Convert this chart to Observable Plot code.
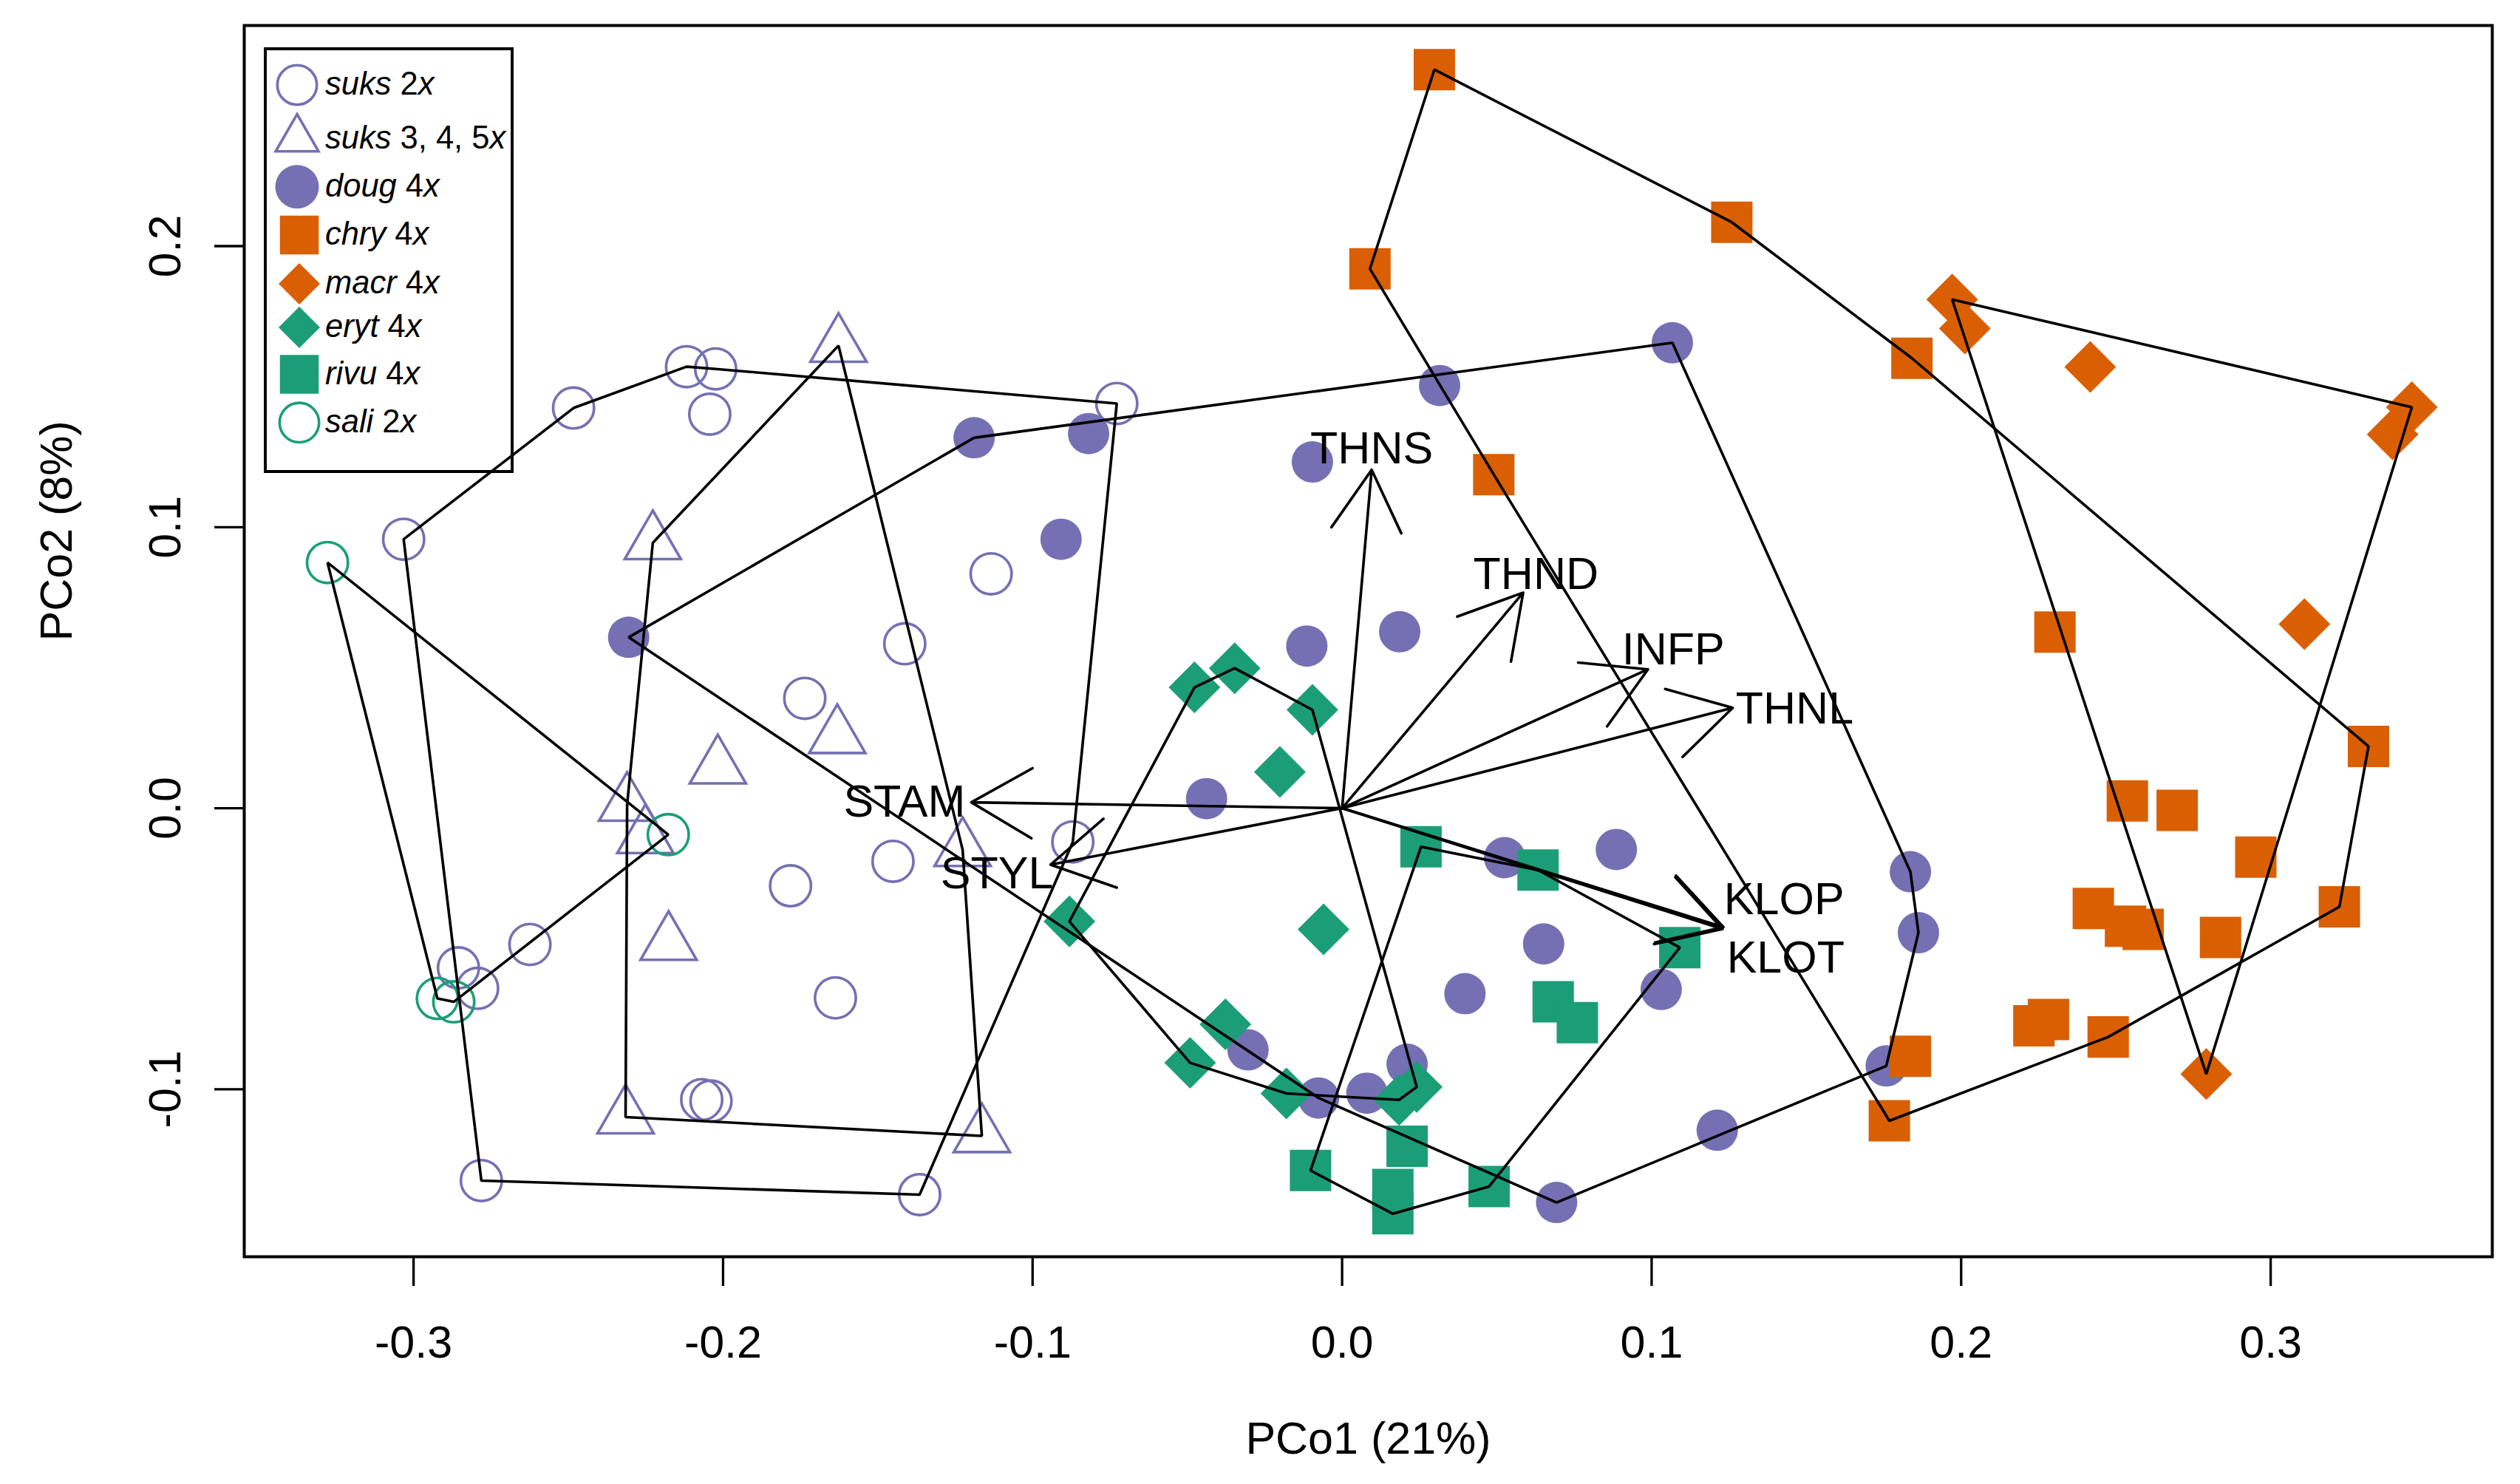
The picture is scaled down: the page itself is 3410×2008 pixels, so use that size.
<!DOCTYPE html>
<html>
<head>
<meta charset="utf-8">
<script src="https://cdn.jsdelivr.net/npm/d3@7"></script>
<script src="https://cdn.jsdelivr.net/npm/@observablehq/plot@0.6"></script>
<style>
  html, body { margin: 0; padding: 0; background: #ffffff; }
  #wrap { position: relative; width: 3410px; height: 2008px; background: #ffffff;
          font-family: "Liberation Sans", Arial, Helvetica, sans-serif; }
  #legend { position: absolute; left: 0; top: 0; pointer-events: none; }
</style>
</head>
<body>
<div id="wrap"></div>
<script>
// ---------------- data ----------------
const purple = "#7570B3", orange = "#D95F02", green = "#1B9E77";

// suks 2x (open purple circles)
const suks2x_x = [-0.2118, -0.2024, -0.2043, -0.2483, -0.3032, -0.0728, -0.1134, -0.1413, -0.1736, -0.1782,
                  -0.1451, -0.1637, -0.2624, -0.2855, -0.2793, -0.2069, -0.2039, -0.2781, -0.1365, -0.0870];
const suks2x_y = [0.1571, 0.1563, 0.1402, 0.1424, 0.0957, 0.1440, 0.0834, 0.0585, 0.0391, -0.0276,
                  -0.0189, -0.0675, -0.0485, -0.0568, -0.0641, -0.1037, -0.1042, -0.1325, -0.1375, -0.0120];
// suks 3, 4, 5x (open purple triangles)
const suks345_x = [-0.1627, -0.2227, -0.1631, -0.2017, -0.2310, -0.2251, -0.2176, -0.2315, -0.1164, -0.1226];
const suks345_y = [0.1646, 0.0944, 0.0254, 0.0146, 0.0013, -0.0102, -0.0482, -0.1099, -0.1166, -0.0148];
// doug 4x (filled purple circles)
const doug_x = [0.1067, 0.0315, -0.1189, -0.0819, -0.0096, -0.0908, -0.2305, 0.0186, -0.0114, -0.0438,
                0.0525, 0.0886, 0.1836, 0.1862, 0.0651, 0.0397, 0.1031, -0.0304, 0.0210, -0.0076,
                0.0080, 0.0693, 0.1212, 0.1758];
const doug_y = [0.1656, 0.1504, 0.1318, 0.1333, 0.1232, 0.0957, 0.0608, 0.0628, 0.0577, 0.0034,
                -0.0176, -0.0147, -0.0226, -0.0443, -0.0483, -0.0660, -0.0645, -0.0860, -0.0911, -0.1031,
                -0.1014, -0.1403, -0.1146, -0.0917];
// chry 4x (orange squares)
const chry_x = [0.0298, 0.0090, 0.1259, 0.1841, 0.0490, 0.2303, 0.3316, 0.2537, 0.2698, 0.2952,
                0.3222, 0.2427, 0.2531, 0.2588, 0.2838, 0.2475, 0.2235, 0.2282, 0.1836, 0.1768];
const chry_y = [0.2628, 0.1919, 0.2085, 0.1601, 0.1187, 0.0627, 0.0220, 0.0026, -0.0008, -0.0174,
                -0.0351, -0.0357, -0.0420, -0.0431, -0.0460, -0.0814, -0.0774, -0.0752, -0.0883, -0.1112];
// macr 4x (orange diamonds)
const macr_x = [0.1971, 0.2012, 0.2417, 0.3456, 0.3394, 0.3109, 0.2792];
const macr_y = [0.1810, 0.1707, 0.1570, 0.1427, 0.1330, 0.0655, -0.0946];
// eryt 4x (green diamonds)
const eryt_x = [-0.0477, -0.0347, -0.0096, -0.0201, -0.0881, -0.0060, -0.0377, -0.0491, -0.0180, 0.0184, 0.0241];
const eryt_y = [0.0430, 0.0498, 0.0350, 0.0129, -0.0403, -0.0431, -0.0769, -0.0906, -0.1015, -0.1038, -0.0992];
// rivu 4x (green squares)
const rivu_x = [0.0255, 0.0633, 0.1091, 0.0682, 0.0760, -0.0102, 0.0210, 0.0164, 0.0164, 0.0475];
const rivu_y = [-0.0137, -0.0220, -0.0496, -0.0689, -0.0763, -0.1289, -0.1203, -0.1357, -0.1443, -0.1346];
// sali 2x (open green circles)
const sali_x = [-0.3278, -0.2177, -0.2923, -0.2870];
const sali_y = [0.0874, -0.0094, -0.0677, -0.0689];

// legend text
const legendNames = ["suks", "suks", "doug", "chry", "macr", "eryt", "rivu", "sali"];
const legendPloidy = ["2", "3, 4, 5", "4", "4", "4", "4", "4", "2"];

// biplot vectors
const vecNames = ["THNS", "THND", "INFP", "THNL", "KLOP", "KLOT", "STAM", "STYL"];
const vecX = [0.00955, 0.0585, 0.0988, 0.1262, 0.1232, 0.1229, -0.1198, -0.0942];
const vecY = [0.1204, 0.0767, 0.0494, 0.0357, -0.0423, -0.0430, 0.0021, -0.0201];
const vecLabelX = [0.00955, 0.0626, 0.1070, 0.1462, 0.1428, 0.1433, -0.1414, -0.1115];
const vecLabelY = [0.1277, 0.0831, 0.0563, 0.0352, -0.0326, -0.0534, 0.0021, -0.0234];

// axes
const xTicks = [-0.3, -0.2, -0.1, 0.0, 0.1, 0.2, 0.3];
const yTicks = [-0.1, 0.0, 0.1, 0.2];
const xTitle = "PCo1 (21%)";
const yTitle = "PCo2 (8%)";

// ---------------- build ----------------
const groups = [
  {key: "suks2x", xs: suks2x_x, ys: suks2x_y, symbol: "circle", color: purple, filled: false, r: 27.7},
  {key: "suks345", xs: suks345_x, ys: suks345_y, symbol: "triangle", color: purple, filled: false, r: 28.2},
  {key: "doug", xs: doug_x, ys: doug_y, symbol: "circle", color: purple, filled: true, r: 28},
  {key: "chry", xs: chry_x, ys: chry_y, symbol: "square", color: orange, filled: true, r: 31.6},
  {key: "macr", xs: macr_x, ys: macr_y, symbol: "diamond2", color: orange, filled: true, r: 31.5},
  {key: "eryt", xs: eryt_x, ys: eryt_y, symbol: "diamond2", color: green, filled: true, r: 31.5},
  {key: "rivu", xs: rivu_x, ys: rivu_y, symbol: "square", color: green, filled: true, r: 31.6},
  {key: "sali", xs: sali_x, ys: sali_y, symbol: "circle", color: green, filled: false, r: 27.7}
];

const points = groups.flatMap(g => g.xs.map((x, i) => ({group: g.key, x, y: g.ys[i]})));

const hullRows = groups.flatMap(g => {
  const hull = d3.polygonHull(g.xs.map((x, i) => [x, g.ys[i]]));
  return hull.map(([x, y]) => ({group: g.key, x, y}));
});

const vectors = vecNames.map((name, i) => ({name, x: vecX[i], y: vecY[i], lx: vecLabelX[i], ly: vecLabelY[i]}));

const lw = 3.6;
const dotMarks = groups.map(g => Plot.dot(points.filter(d => d.group === g.key), {
  x: "x", y: "y", symbol: g.symbol, r: g.r,
  fill: g.filled ? g.color : "none",
  stroke: g.filled ? "none" : g.color,
  strokeWidth: g.filled ? 0 : lw
}));

const chart = Plot.plot({
  width: 3410,
  height: 2008,
  marginLeft: 330,
  marginRight: 38,
  marginTop: 34,
  marginBottom: 308,
  style: {fontFamily: "'Liberation Sans', Arial, Helvetica, sans-serif", fontSize: "61px", background: "#ffffff", color: "black"},
  x: {domain: [-0.3547, 0.3716]},
  y: {domain: [-0.1596, 0.2785]},
  marks: [
    ...dotMarks,
    Plot.line(hullRows, {x: "x", y: "y", z: "group", curve: "linear-closed", stroke: "black", strokeWidth: lw, strokeLinejoin: "miter"}),
    Plot.arrow(vectors, {x1: 0, y1: 0, x2: "x", y2: "y", stroke: "black", strokeWidth: lw, headAngle: 60, headLength: 39.5}),
    Plot.text(vectors, {x: "lx", y: "ly", text: "name", fontSize: 61, fill: "black", textAnchor: "middle", lineAnchor: "middle"}),
    Plot.axisX(xTicks, {tickSize: 40, tickPadding: 53, tickFormat: d => d.toFixed(1), strokeWidth: 3.3, fontSize: 61, label: null}),
    Plot.axisY(yTicks, {tickSize: 40, tickPadding: 47, tickRotate: -90, tickFormat: d => d.toFixed(1), strokeWidth: 3.3, fontSize: 61, label: null}),
    Plot.text([xTitle], {frameAnchor: "bottom", dy: 266, fontSize: 61, fill: "black"}),
    Plot.text([yTitle], {frameAnchor: "left", dx: -253, rotate: -90, fontSize: 61, fill: "black"}),
    Plot.frame({stroke: "black", strokeWidth: 4})
  ]
});

const wrap = document.getElementById("wrap");
wrap.appendChild(chart);

// ---------------- legend (inside the plot box, top-left) ----------------
const legendRowsY = [115, 188, 252.7, 318, 384, 443, 506.6, 571.8];
const legendSym = [
  {type: d3.symbolCircle, size: 2240, color: purple, filled: false, cx: 402},
  {type: d3.symbolTriangle, size: 1457, color: purple, filled: false, cx: 402},
  {type: d3.symbolCircle, size: 2734, color: purple, filled: true, cx: 402},
  {type: d3.symbolSquare, size: 2756, color: orange, filled: true, cx: 405},
  {type: d3.symbolDiamond2, size: 2000, color: orange, filled: true, cx: 405},
  {type: d3.symbolDiamond2, size: 2000, color: green, filled: true, cx: 405},
  {type: d3.symbolSquare, size: 2756, color: green, filled: true, cx: 405},
  {type: d3.symbolCircle, size: 2240, color: green, filled: false, cx: 405}
];

const lsvg = d3.create("svg")
  .attr("id", "legend")
  .attr("width", 3410).attr("height", 2008)
  .attr("viewBox", "0 0 3410 2008")
  .style("font-family", "'Liberation Sans', Arial, Helvetica, sans-serif");

lsvg.append("rect")
  .attr("x", 359).attr("y", 66).attr("width", 334).attr("height", 572)
  .attr("fill", "none").attr("stroke", "black").attr("stroke-width", 4);

legendSym.forEach((s, i) => {
  lsvg.append("path")
    .attr("d", d3.symbol().type(s.type).size(s.size)())
    .attr("transform", `translate(${s.cx},${legendRowsY[i]})`)
    .attr("fill", s.filled ? s.color : "none")
    .attr("stroke", s.filled ? "none" : s.color)
    .attr("stroke-width", s.filled ? 0 : lw);
  const t = lsvg.append("text")
    .attr("x", 440).attr("y", legendRowsY[i] + 13)
    .attr("font-size", 43.5).attr("fill", "black")
    .style("white-space", "pre");
  t.append("tspan").attr("font-style", "italic").text(legendNames[i]);
  t.append("tspan").text(" " + legendPloidy[i]);
  t.append("tspan").attr("font-style", "italic").text("x");
});

wrap.appendChild(lsvg.node());
</script>
</body>
</html>
